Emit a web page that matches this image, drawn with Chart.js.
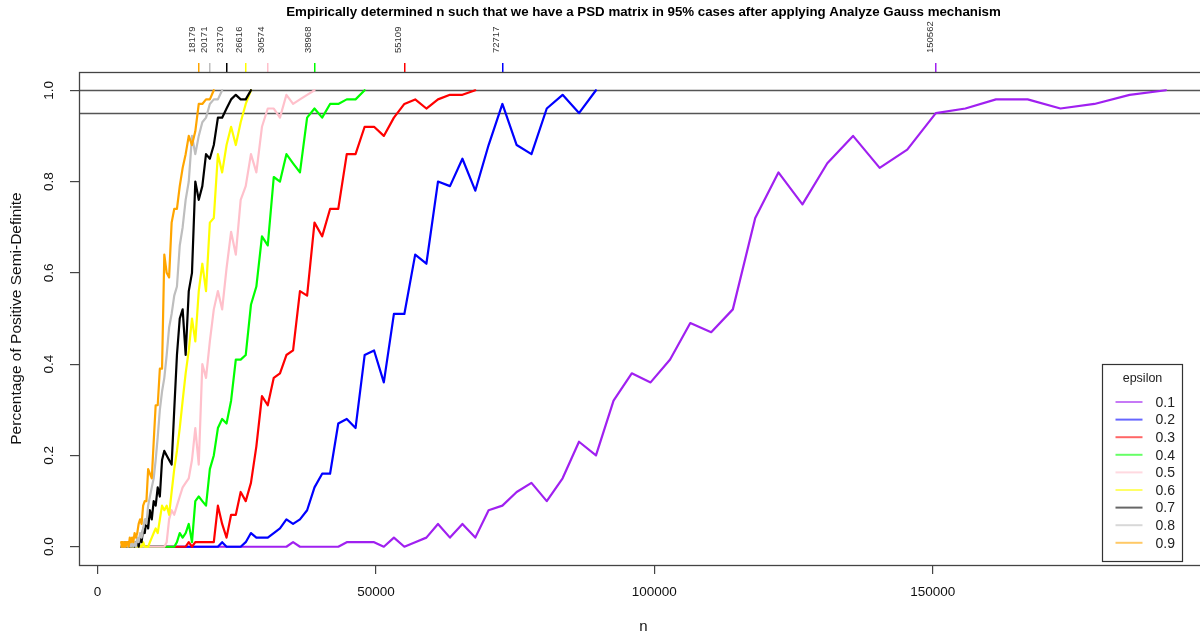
<!DOCTYPE html>
<html><head><meta charset="utf-8">
<script src="https://cdn.jsdelivr.net/npm/chart.js@4.4.1/dist/chart.umd.min.js"></script>
<style>
html,body{margin:0;padding:0;background:#fff;overflow:hidden;width:1200px;height:636px}
#wrap{width:1200px;height:636px;overflow:hidden;position:relative}
canvas{display:block}
</style></head><body>
<div id="wrap"><canvas id="c" width="1208" height="636" style="width:1208px;height:636px"></canvas></div>
<script>
// n grid (x values)
const nValues = [4240,4390,4545,4705,4871,5043,5221,5405,5595,5793,
 5997,6208,6427,6654,6889,7132,7383,7643,7913,8192,
 8481,8780,9090,9410,9742,10086,10441,10809,11191,11585,
 11994,12417,12855,13308,13777,14263,14766,15287,15826,16384,
 16962,17560,18179,18820,19484,20171,20882,21619,22381,23170,
 23987,24834,25709,26616,27554,28526,29532,30574,31652,32768,
 33923,35120,36358,37641,38968,40342,41765,43237,44762,46341,
 47975,49667,51419,53232,55109,57052,59064,61147,63303,65536,
 67847,70240,72717,75281,77936,80684,83530,86475,89525,92682,
 95950,99334,102837,106464,110218,114105,118128,122294,126607,131072,
 135694,140479,145433,150562,155871,161368,167059,172950,179049,185363,
 191900];

const eps01 = [0,0,0,0,0,0,0,0,0,0, 0,0,0,0,0,0,0,0,0,0, 0,0,0,0,0,0,0,0,0,0,
 0,0,0,0,0,0,0,0,0,0, 0,0,0,0,0,0,0,0,0,0, 0,0,0,0,0,0,0,0,0,0,
 0,0.01,0,0,0,0,0,0,0.01,0.01,
 0.01,0.01,0,0.02,0,0.01,0.02,0.05,0.02,0.05,
 0.02,0.08,0.09,0.12,0.14,0.10,0.15,0.23,0.20,0.32,
 0.38,0.36,0.41,0.49,0.47,0.52,0.72,0.82,0.75,0.84,
 0.90,0.83,0.87,0.95,0.96,0.98,0.98,0.96,0.97,0.99,1.00];

const eps02 = [0,0,0,0,0,0,0,0,0,0, 0,0,0,0,0,0,0,0,0,0, 0,0,0,0,0,0,0,0,0,0, 0,0,0,0,0,0,0,0,0,0,
 0,0,0,0,0,0,0,0,0.01,0,
 0,0,0,0.01,0.03,0.02,0.02,0.02,0.03,0.04,
 0.06,0.05,0.06,0.08,0.13,0.16,0.16,0.27,0.28,0.26,
 0.42,0.43,0.36,0.51,0.51,0.64,0.62,0.80,0.79,0.85,
 0.78,0.88,0.97,0.88,0.86,0.96,0.99,0.95,1.00];

const eps03 = [0,0,0,0,0,0,0,0,0,0, 0,0,0,0,0,0,0,0,0,0, 0,0,0,0,0,0,0,0,0,0,
 0,0,0,0,0,0,0,0,0,0.01,
 0,0.01,0.01,0.01,0.01,0.01,0.01,0.09,0.05,0.02,
 0.07,0.07,0.12,0.10,0.14,0.22,0.33,0.31,0.37,0.38,
 0.42,0.43,0.56,0.55,0.71,0.68,0.74,0.74,0.86,0.86,
 0.92,0.92,0.90,0.94,0.97,0.98,0.96,0.98,0.99,0.99,1.00];

const eps04 = [0,0,0,0,0,0,0,0,0,0, 0,0,0,0,0,0,0,0,0,0, 0,0,0,0,0,0,0,0,0,0,
 0,0,0,0,0,0.01,0.03,0.02,0.03,0.05,
 0.01,0.10,0.11,0.10,0.09,0.17,0.20,0.26,0.28,0.27,
 0.32,0.41,0.41,0.42,0.53,0.57,0.68,0.66,0.81,0.80,
 0.86,0.84,0.82,0.94,0.96,0.94,0.97,0.97,0.98,0.98,1.00];

const eps05 = [0,0,0,0,0,0,0,0,0,0, 0,0,0,0,0,0,0,0,0,0, 0,0,0,0,0,0,0,0,0,0,
 0,0.01,0.06,0.08,0.07,0.09,0.11,0.13,0.14,0.15,
 0.19,0.26,0.18,0.40,0.37,0.45,0.52,0.56,0.52,0.61,
 0.69,0.64,0.76,0.79,0.86,0.82,0.92,0.96,0.96,0.94,
 0.99,0.97,0.98,0.99,1.00];

const eps06 = [0,0,0,0,0,0,0,0,0,0,
 0,0,0,0,0,0,0.01,0,0,0.01,
 0,0,0,0.01,0.02,0.03,0.04,0.03,0.06,0.09,
 0.08,0.09,0.07,0.12,0.17,0.21,0.26,0.32,0.38,0.43,
 0.50,0.45,0.56,0.62,0.56,0.71,0.72,0.86,0.82,0.88,
 0.92,0.88,0.93,0.97,1.00];

const eps07 = [0,0,0,0,0.01,0,0,0,0.01,0,
 0,0.01,0,0,0.01,0.01,0,0.02,0.01,0.04,
 0.03,0.06,0.04,0.08,0.06,0.10,0.09,0.13,0.11,0.19,
 0.21,0.20,0.19,0.18,0.30,0.42,0.50,0.52,0.42,0.56,
 0.60,0.80,0.76,0.79,0.86,0.85,0.88,0.94,0.94,0.96,
 0.98,0.99,0.98,0.98,1.00];

const eps08 = [0,0,0,0.01,0,0,0.01,0,0,0.01,
 0,0.01,0,0.01,0,0.02,0.01,0.03,0.02,0.04,
 0.06,0.05,0.09,0.11,0.13,0.15,0.19,0.24,0.30,0.34,
 0.37,0.42,0.48,0.51,0.55,0.57,0.66,0.70,0.76,0.80,
 0.90,0.86,0.90,0.93,0.94,0.97,0.98,0.98,1.00];

const eps09 = [0.01,0,0.01,0,0.01,0,0.01,0.01,0,0.02,
 0.01,0.02,0.01,0.03,0.02,0.03,0.05,0.06,0.05,0.09,
 0.10,0.10,0.17,0.16,0.15,0.23,0.31,0.31,0.39,0.39,
 0.64,0.60,0.59,0.71,0.74,0.74,0.79,0.83,0.86,0.90,
 0.88,0.91,0.97,0.97,0.98,0.98,1.00];

const epsilonLabels = ['0.1','0.2','0.3','0.4','0.5','0.6','0.7','0.8','0.9'];
const seriesValues = [eps01,eps02,eps03,eps04,eps05,eps06,eps07,eps08,eps09];
const seriesColors = ['#A020F0','#0000FF','#FF0000','#00FF00','#FFC0CB','#FFFF00','#000000','#BEBEBE','#FFA500'];
// empirically determined n per epsilon (top axis)
const thresholdN = [150562,72717,55109,38968,30574,26616,23170,20171,18179];
const xTickValues = [0,50000,100000,150000];
const yTickValues = [0,0.2,0.4,0.6,0.8,1.0];
const refLines = [1.0,0.95];
const chartTitle = 'Empirically determined n such that we have a PSD matrix in 95% cases after applying Analyze Gauss mechanism';

const FONT = '"Liberation Sans", Arial, Helvetica, sans-serif';
Chart.defaults.font.family = FONT;

const datasets = seriesValues.map((vals, k) => ({
  label: epsilonLabels[k],
  data: vals.map((v, i) => ({x: nValues[i], y: v})),
  borderColor: seriesColors[k],
  backgroundColor: seriesColors[k],
  borderWidth: 2.2,
  pointRadius: 0,
  tension: 0,
  fill: false,
  borderJoinStyle: 'round',
  borderCapStyle: 'round',
  order: seriesValues.length - k
}));

const topTicks = thresholdN.map((v, k) => ({value: v, color: seriesColors[k]}));
topTicks.sort((a, b) => a.value - b.value);

const decor = {
  id: 'decor',
  beforeDatasetsDraw(chart) {
    const {ctx, chartArea: a, scales: {y}} = chart;
    ctx.save();
    ctx.strokeStyle = '#555';
    ctx.lineWidth = 1.6;
    refLines.forEach(v => {
      const py = Math.round(y.getPixelForValue(v)) + 0.5;
      ctx.beginPath(); ctx.moveTo(a.left, py); ctx.lineTo(a.right, py); ctx.stroke();
    });
    ctx.restore();
  },
  afterDatasetsDraw(chart) {
    const {ctx, chartArea: a} = chart;
    ctx.save();
    ctx.strokeStyle = '#444';
    ctx.lineWidth = 1.3;
    ctx.strokeRect(a.left + 0.5, a.top + 0.5, a.right - a.left, a.bottom - a.top);
    // legend
    const w = 80, h = 197;
    const lx = a.right - 25.5 - w, ly = a.bottom - 3.5 - h;
    ctx.fillStyle = '#fff';
    ctx.fillRect(lx, ly, w, h);
    ctx.strokeStyle = '#333';
    ctx.lineWidth = 1.2;
    ctx.strokeRect(lx, ly, w, h);
    ctx.fillStyle = '#222';
    ctx.textBaseline = 'middle';
    ctx.textAlign = 'center';
    ctx.font = '12.5px ' + FONT;
    ctx.fillText('epsilon', lx + w / 2, ly + 14);
    ctx.textAlign = 'left';
    ctx.font = '14px ' + FONT;
    chart.data.datasets.forEach((ds, k) => {
      const ey = ly + 37.5 + k * 17.6;
      ctx.save();
      ctx.globalAlpha = 0.6;
      ctx.strokeStyle = ds.borderColor;
      ctx.lineWidth = 2;
      ctx.beginPath(); ctx.moveTo(lx + 13, ey); ctx.lineTo(lx + 40, ey); ctx.stroke();
      ctx.restore();
      ctx.fillStyle = '#222';
      ctx.fillText(ds.label, lx + 53, ey + 1);
    });
    ctx.restore();
  }
};

new Chart(document.getElementById('c'), {
  type: 'line',
  data: {datasets},
  plugins: [decor],
  options: {
    responsive: false,
    animation: false,
    devicePixelRatio: 1,
    layout: {padding: 0},
    plugins: {legend: {display: false}, title: {display: false}, tooltip: {enabled: false}},
    scales: {
      x: {
        type: 'linear', position: 'bottom', min: -3330, max: 199450,
        afterBuildTicks: s => { s.ticks = xTickValues.map(v => ({value: v})); },
        afterFit: s => { s.height = 71; },
        ticks: {callback: v => String(v), font: {size: 13.5}, color: '#111', padding: 10, maxRotation: 0, autoSkip: false},
        grid: {drawOnChartArea: false, drawTicks: true, tickLength: 9, color: '#444', lineWidth: 1.2},
        border: {display: false},
        title: {display: true, text: 'n', font: {size: 15}, color: '#111', padding: {top: 0, bottom: 0}}
      },
      x2: {
        type: 'linear', position: 'top', min: -3330, max: 199450,
        afterBuildTicks: s => { s.ticks = topTicks.map(t => ({value: t.value})); },
        afterFit: s => { s.height = 72; },
        ticks: {callback: v => String(v), font: {size: 9.5}, color: '#333', padding: 10, minRotation: 90, maxRotation: 90, autoSkip: false, labelOffset: 5.5},
        grid: {drawOnChartArea: false, drawTicks: true, tickLength: 9, lineWidth: 1.5,
               color: ctx => (topTicks[ctx.index] ? topTicks[ctx.index].color : '#444')},
        border: {display: false},
        title: {display: true, text: chartTitle, font: {size: 13.3, weight: 'bold'}, color: '#000', padding: {top: 4.5, bottom: 0}}
      },
      y: {
        type: 'linear', position: 'left', min: -0.04, max: 1.04,
        afterBuildTicks: s => { s.ticks = yTickValues.map(v => ({value: v})); },
        afterFit: s => { s.width = 79; },
        ticks: {callback: v => v.toFixed(1), font: {size: 13.5}, color: '#111', padding: 11, minRotation: 90, maxRotation: 90, crossAlign: 'center', autoSkip: false},
        grid: {drawOnChartArea: false, drawTicks: true, tickLength: 9, color: '#444', lineWidth: 1.2},
        border: {display: false},
        title: {display: true, text: 'Percentage of Positive Semi-Definite', font: {size: 15.5}, color: '#111', padding: {top: 7.5, bottom: 0}}
      }
    }
  }
});
</script>
</body></html>
